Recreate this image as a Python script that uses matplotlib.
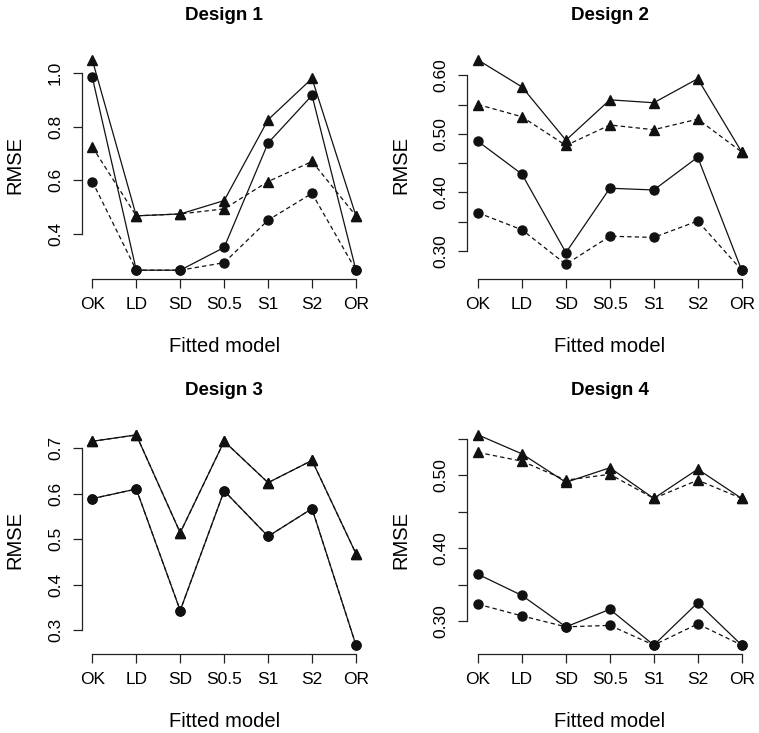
import matplotlib
matplotlib.use("Agg")
import matplotlib.pyplot as plt
import numpy as np

plt.rcParams['font.family'] = ['Liberation Sans', 'DejaVu Sans']

models = ["OK", "LD", "SD", "S0.5", "S1", "S2", "OR"]

# Design 1
d1_tri_solid = [1.049, 0.467, 0.474, 0.524, 0.826, 0.980, 0.467]
d1_tri_dash = [0.724, 0.467, 0.474, 0.493, 0.595, 0.670, 0.467]
d1_cir_solid = [0.984, 0.264, 0.264, 0.349, 0.739, 0.917, 0.264]
d1_cir_dash = [0.595, 0.264, 0.264, 0.292, 0.451, 0.551, 0.264]
# Design 2
d2_tri_solid = [0.626, 0.580, 0.489, 0.558, 0.553, 0.594, 0.469]
d2_tri_dash = [0.550, 0.529, 0.480, 0.515, 0.507, 0.525, 0.469]
d2_cir_solid = [0.487, 0.431, 0.297, 0.407, 0.404, 0.460, 0.267]
d2_cir_dash = [0.365, 0.336, 0.277, 0.325, 0.323, 0.351, 0.267]
# Design 3
d3_tri_solid = [0.715, 0.729, 0.514, 0.715, 0.624, 0.673, 0.468]
d3_tri_dash = [0.715, 0.729, 0.514, 0.715, 0.624, 0.673, 0.468]
d3_cir_solid = [0.589, 0.610, 0.343, 0.606, 0.506, 0.567, 0.267]
d3_cir_dash = [0.589, 0.610, 0.343, 0.606, 0.506, 0.567, 0.267]
# Design 4
d4_tri_solid = [0.555, 0.529, 0.490, 0.510, 0.468, 0.508, 0.468]
d4_tri_dash = [0.531, 0.519, 0.493, 0.501, 0.468, 0.493, 0.468]
d4_cir_solid = [0.364, 0.335, 0.292, 0.316, 0.267, 0.325, 0.267]
d4_cir_dash = [0.323, 0.307, 0.292, 0.294, 0.267, 0.296, 0.267]

titles = ["Design 1", "Design 2", "Design 3", "Design 4"]
data = [
    (d1_tri_solid, d1_tri_dash, d1_cir_solid, d1_cir_dash),
    (d2_tri_solid, d2_tri_dash, d2_cir_solid, d2_cir_dash),
    (d3_tri_solid, d3_tri_dash, d3_cir_solid, d3_cir_dash),
    (d4_tri_solid, d4_tri_dash, d4_cir_solid, d4_cir_dash),
]
yticks = [
    [0.4, 0.6, 0.8, 1.0],
    [0.30, 0.35, 0.40, 0.45, 0.50, 0.55, 0.60],
    [0.3, 0.4, 0.5, 0.6, 0.7],
    [0.30, 0.35, 0.40, 0.45, 0.50, 0.55],
]
ylabels = [
    ["0.4", "0.6", "0.8", "1.0"],
    ["0.30", "", "0.40", "", "0.50", "", "0.60"],
    ["0.3", "0.4", "0.5", "0.6", "0.7"],
    ["0.30", "", "0.40", "", "0.50", ""],
]

W, H = 759, 733
fig = plt.figure(figsize=(W / 100, H / 100), dpi=100)

lefts = [81.8, 467.5, 81.8, 467.5]
tops = [51.6, 51.6, 426.5, 426.5]
pw, ph = 284.7, 227.0

x = np.arange(1, len(models) + 1)
axcol = '#222222'
for i in range(4):
    ax = fig.add_axes([lefts[i] / W, 1 - (tops[i] + ph) / H, pw / W, ph / H])
    ts, td, cs, cd = data[i]
    kw = dict(color='#111111', lw=0.9, ms=6.5)
    ax.plot(x, td, linestyle=(0, (3.5, 2.5)), marker='^', **kw)
    ax.plot(x, cd, linestyle=(0, (3.5, 2.5)), marker='o', **kw)
    ax.plot(x, ts, linestyle='-', marker='^', **kw)
    ax.plot(x, cs, linestyle='-', marker='o', **kw)
    ax.margins(x=0.04, y=0.04)
    for s in ['top', 'right']:
        ax.spines[s].set_visible(False)
    for s in ['left', 'bottom']:
        ax.spines[s].set_color(axcol)
        ax.spines[s].set_linewidth(0.9)
    ax.set_xticks(x)
    ax.set_xticklabels(models, fontsize=12.5)
    ax.set_yticks(yticks[i])
    ax.set_yticklabels(ylabels[i], fontsize=12.5, rotation=90, va='center')
    ax.spines['bottom'].set_bounds(1, len(models))
    ax.spines['left'].set_bounds(yticks[i][0], yticks[i][-1])
    ax.tick_params(axis='both', direction='out', length=6.5, width=0.9, color=axcol)
    ax.tick_params(axis='x', pad=7)
    ax.tick_params(axis='y', pad=7)
    ax.set_xlabel("Fitted model", fontsize=14.5, labelpad=18)
    ax.set_ylabel("RMSE", fontsize=14.5, labelpad=17)
    ax.set_title(titles[i], fontsize=13.5, fontweight='bold', pad=23)

fig.savefig("out.png", dpi=100)
